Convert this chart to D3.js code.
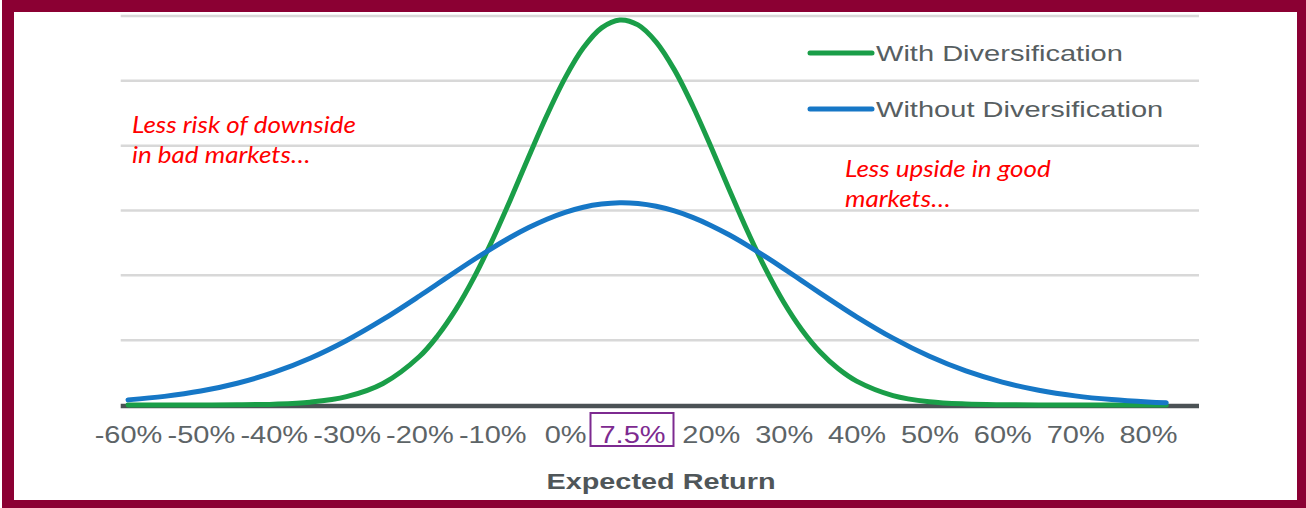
<!DOCTYPE html>
<html>
<head>
<meta charset="utf-8">
<script src="https://cdn.jsdelivr.net/npm/d3@7"></script>
<style>
  body { margin: 0; background: #fff; }
</style>
</head>
<body>
<div id="chart"></div>
<script>
// expected return (%) and curve heights
const returns = [-60, -55, -50, -45, -40, -35, -30, -25, -20,
  -17.5, -15, -12.5, -10, -7.5, -5, -2.5, 0, 2.5, 5, 7.5, 10, 12.5, 15, 17.5, 20,
  22.5, 25, 27.5, 30, 32.5, 35, 37.5, 40,
  45, 50, 55, 60, 65, 70, 75, 80, 82.5];

const withDiv = [0, 0, 0.001, 0.003, 0.013, 0.044, 0.129, 0.332, 0.748,
  1.068, 1.474, 1.968, 2.541, 3.171, 3.829, 4.469, 5.046, 5.509, 5.817, 5.939, 5.863, 5.598, 5.169, 4.615, 3.986,
  3.328, 2.687, 2.099, 1.585, 1.158, 0.817, 0.558, 0.368,
  0.145, 0.050, 0.015, 0.004, 0.001, 0, 0, 0, 0];

const withoutDiv = [0.079, 0.133, 0.215, 0.336, 0.502, 0.721, 0.995, 1.319, 1.681,
  1.870, 2.059, 2.244, 2.421, 2.587, 2.737, 2.866, 2.972, 3.051, 3.100, 3.120, 3.108, 3.065, 2.993, 2.894, 2.770,
  2.625, 2.462, 2.287, 2.104, 1.915, 1.726, 1.541, 1.361,
  1.031, 0.751, 0.525, 0.353, 0.228, 0.141, 0.084, 0.048, 0.036];

const xTicks = [-60, -50, -40, -30, -20, -10, 0, 10, 20, 30, 40, 50, 60, 70, 80];
const xTickLabels = ["-60%", "-50%", "-40%", "-30%", "-20%", "-10%", "0%", "7.5%",
  "20%", "30%", "40%", "50%", "60%", "70%", "80%"];
const gridValues = [1, 2, 3, 4, 5, 6];
const seriesNames = ["With Diversification", "Without Diversification"];
const seriesColors = ["#1a9e48", "#1677c6"];
const noteLeft = ["Less risk of downside", "in bad markets…"];
const noteRight = ["Less upside in good", "markets…"];

const W = 1306, H = 508;
const svg = d3.select("#chart")
  .append("svg")
    .attr("width", W)
    .attr("height", H);

// maroon frame
svg.append("rect")
  .attr("x", 2).attr("y", 0)
  .attr("width", W - 2).attr("height", H)
  .attr("fill", "#8b0033");
svg.append("rect")
  .attr("x", 14).attr("y", 12)
  .attr("width", 1283).attr("height", 488)
  .attr("fill", "#fff");

const xScale = d3.scaleLinear().domain([-60, 80]).range([128, 1148]);
const yScale = d3.scaleLinear().domain([0, 6]).range([405, 16]);
const xExtent = [-61, 87];

// stretch text horizontally (the original picture is widened)
function stretch(sel, k) {
  sel.each(function() {
    const w = this.getComputedTextLength();
    d3.select(this).attr("textLength", w * k).attr("lengthAdjust", "spacingAndGlyphs");
  });
}

// gridlines
svg.selectAll(".grid")
  .data(gridValues)
  .enter().append("line")
    .attr("class", "grid")
    .attr("x1", xScale(xExtent[0]))
    .attr("x2", xScale(xExtent[1]))
    .attr("y1", d => yScale(d))
    .attr("y2", d => yScale(d))
    .attr("stroke", "#d8d8d8")
    .attr("stroke-width", 2.5);

// baseline
svg.append("line")
  .attr("x1", xScale(xExtent[0]))
  .attr("x2", xScale(xExtent[1]))
  .attr("y1", yScale(0) + 1)
  .attr("y2", yScale(0) + 1)
  .attr("stroke", "#4b5255")
  .attr("stroke-width", 4.5);

// x axis
const isBoxed = d => xTickLabels[xTicks.indexOf(d)] === "7.5%";
const xAxis = svg.append("g")
  .attr("transform", `translate(0,${yScale(0)})`)
  .call(d3.axisBottom(xScale)
    .tickValues(xTicks)
    .tickFormat(d => xTickLabels[xTicks.indexOf(d)])
    .tickSize(0)
    .tickPadding(22));
xAxis.select(".domain").remove();
xAxis.selectAll("text")
  .attr("font-family", "'Liberation Sans', Arial, sans-serif")
  .attr("font-size", 23)
  .attr("fill", d => isBoxed(d) ? "#7d2a90" : "#5d6467")
  .attr("x", d => isBoxed(d) ? -6 : 0)
  .call(stretch, 1.26);

// box round the 7.5% label
xAxis.selectAll(".tick")
  .filter(isBoxed)
  .append("rect")
    .attr("x", -48)
    .attr("y", 8)
    .attr("width", 83)
    .attr("height", 33)
    .attr("fill", "none")
    .attr("stroke", "#7d2a90")
    .attr("stroke-width", 2);

// axis title
svg.append("text")
  .attr("x", 661)
  .attr("y", 489)
  .attr("text-anchor", "middle")
  .attr("font-family", "'Liberation Sans', Arial, sans-serif")
  .attr("font-weight", "bold")
  .attr("font-size", 22)
  .attr("fill", "#4f5659")
  .text("Expected Return")
  .call(stretch, 1.31);

// curves
const line = d3.line()
  .x((d, i) => xScale(returns[i]))
  .y(d => yScale(d))
  .curve(d3.curveCatmullRom.alpha(0.5));

[withDiv, withoutDiv].forEach((s, k) => {
  svg.append("path")
    .datum(s)
    .attr("d", line)
    .attr("fill", "none")
    .attr("stroke", seriesColors[k])
    .attr("stroke-width", 5)
    .attr("stroke-linecap", "round");
});

// legend
const legend = svg.selectAll(".legend")
  .data(seriesNames)
  .enter().append("g")
    .attr("class", "legend")
    .attr("transform", (d, i) => `translate(810,${53 + i * 56})`);
legend.append("line")
  .attr("x1", 0).attr("x2", 62)
  .attr("stroke", (d, i) => seriesColors[i])
  .attr("stroke-width", 5)
  .attr("stroke-linecap", "round");
legend.append("text")
  .attr("x", 66)
  .attr("y", 8)
  .attr("font-family", "'Liberation Sans', Arial, sans-serif")
  .attr("font-size", 22)
  .attr("fill", "#575e61")
  .text(d => d)
  .call(stretch, 1.32);

// red notes
function note(lines, x, y) {
  svg.append("g").selectAll("text")
    .data(lines)
    .enter().append("text")
      .attr("x", x)
      .attr("y", (d, i) => y + i * 30)
      .attr("font-family", "Lato, 'Open Sans', sans-serif")
      .attr("font-style", "italic")
      .attr("font-size", 23)
      .attr("fill", "#ff0000")
      .text(d => d)
      .call(stretch, 1.13);
}
note(noteLeft, 132, 133);
note(noteRight, 845, 177);
</script>
</body>
</html>
